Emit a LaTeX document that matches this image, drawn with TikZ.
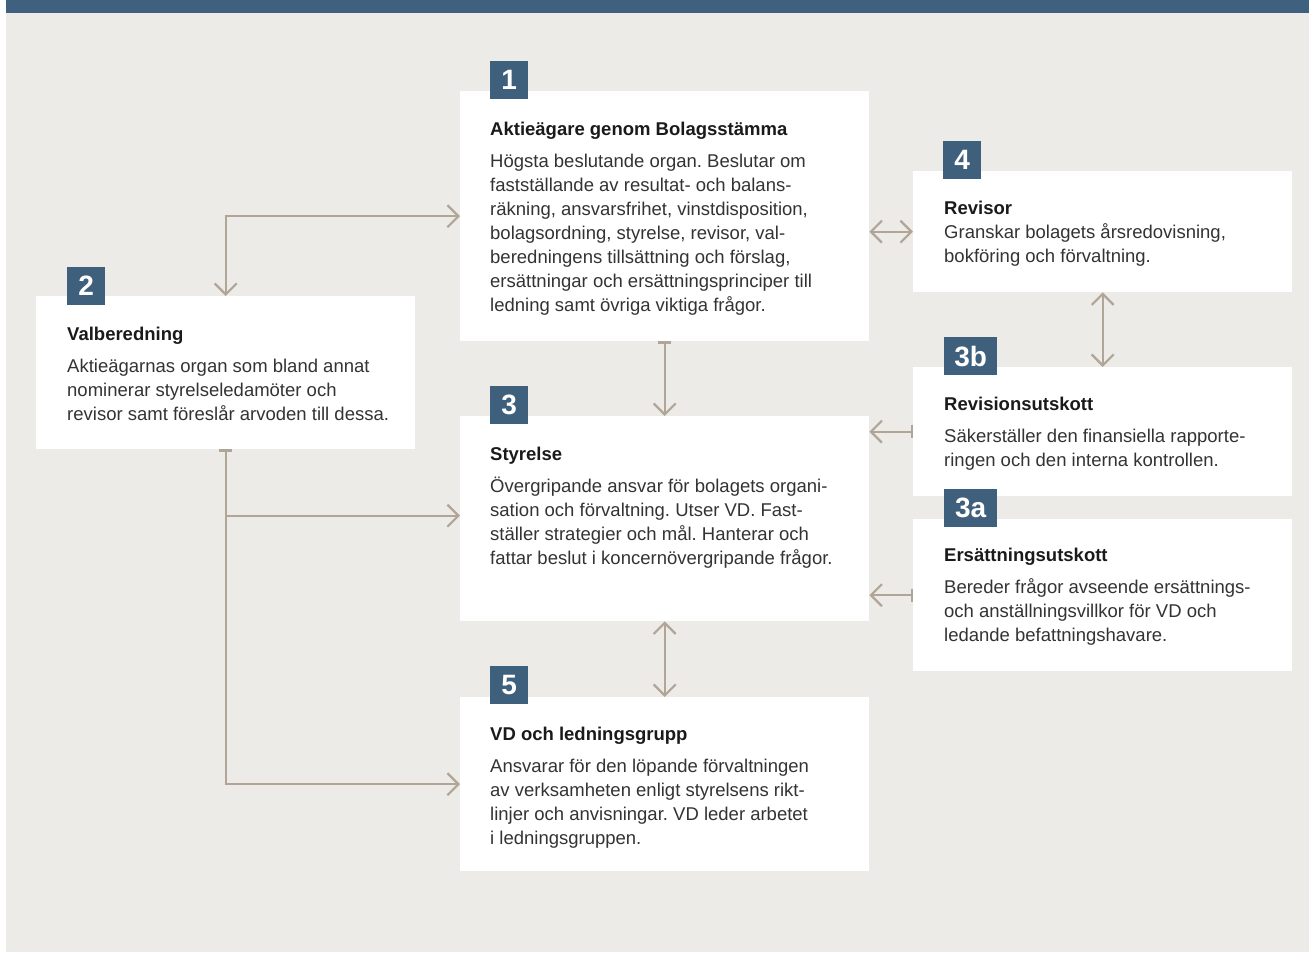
\documentclass[tikz,border=0pt]{standalone}
\usepackage{fontspec}
\setmainfont{Liberation Sans}
\usetikzlibrary{arrows.meta}
\frenchspacing
\definecolor{bggrey}{HTML}{EDEBE7}
\definecolor{bandblue}{HTML}{3F607E}
\definecolor{badgeblue}{HTML}{3F607D}
\definecolor{linetaupe}{HTML}{B0A597}
\definecolor{bodygrey}{HTML}{333333}
\definecolor{titleblack}{HTML}{1A1A1A}
\tikzset{
	whitebox/.style={fill=white, draw=none, inner sep=0, anchor=north west},
	badge/.style={fill=badgeblue, text=white, inner sep=0, anchor=north west, minimum height=38pt, minimum width=38pt, font=\fontsize{28}{28}\selectfont\bfseries},
	txt/.style={anchor=north west, align=left, inner sep=0, text=bodygrey, font=\fontsize{18.5}{24}\selectfont},
	conn/.style={draw=linetaupe, line width=2.2pt},
	barb/.tip={Straight Barb[length=11pt, width=22pt]},
	tee/.tip={Bar[width=13pt]}
}
\newcommand{\boxtitle}[1]{\rule{0pt}{15pt}\textcolor{titleblack}{\textbf{#1}}}
\begin{document}
\begin{tikzpicture}[x=1pt, y=-1pt, line join=miter]
		\def\W{1309}\def\H{953}
		\useasboundingbox (0,0) rectangle (\W,\H);
		\fill[bggrey] (6,13) rectangle (\W,952);
		\fill[bandblue] (6,0) rectangle (\W,13);
		% boxes
		\node[whitebox, minimum width=409pt, minimum height=250pt] (n1) at (460,91) {};
		\node[whitebox, minimum width=379pt, minimum height=153pt] (n2) at (36,296) {};
		\node[whitebox, minimum width=409pt, minimum height=205pt] (n3) at (460,416) {};
		\node[whitebox, minimum width=379pt, minimum height=121pt] (n4) at (913,171) {};
		\node[whitebox, minimum width=379pt, minimum height=129pt] (n3b) at (913,367) {};
		\node[whitebox, minimum width=379pt, minimum height=152pt] (n3a) at (913,519) {};
		\node[whitebox, minimum width=409pt, minimum height=174pt] (n5) at (460,697) {};
		\coordinate (c3) at ([yshift=3pt]n3.west);
		% badges
		\node[badge] (b1) at (490,61) {1};
		\node[badge] (b2) at (67,267) {2};
		\node[badge] (b3) at (490,386) {3};
		\node[badge] (b4) at (943,141) {4};
		\node[badge, minimum width=53pt] (b3b) at (944,337) {3b};
		\node[badge, minimum width=53pt] (b3a) at (944,489) {3a};
		\node[badge] (b5) at (490,666) {5};
		% texts
		\node[txt] (t1) at (490,120) {\boxtitle{Aktieägare genom Bolagsstämma}\\[8pt]
			Högsta beslutande organ. Beslutar om\\
			fastställande av resultat- och balans-\\
			räkning, ansvarsfrihet, vinstdisposition,\\
			bolagsordning, styrelse, revisor, val-\\
			beredningens tillsättning och förslag,\\
			ersättningar och ersättningsprinciper till\\
			ledning samt övriga viktiga frågor.};
		\node[txt] (t2) at (67,325) {\boxtitle{Valberedning}\\[8pt]
			Aktieägarnas organ som bland annat\\
			nominerar styrelseledamöter och\\
			revisor samt föreslår arvoden till dessa.};
		\node[txt] (t3) at (490,445) {\boxtitle{Styrelse}\\[8pt]
			Övergripande ansvar för bolagets organi-\\
			sation och förvaltning. Utser VD. Fast-\\
			ställer strategier och mål. Hanterar och\\
			fattar beslut i koncernövergripande frågor.};
		\node[txt] (t4) at (944,199) {\boxtitle{Revisor}\\
			Granskar bolagets årsredovisning,\\
			bokföring och förvaltning.};
		\node[txt] (t3b) at (944,395) {\boxtitle{Revisionsutskott}\\[8pt]
			Säkerställer den finansiella rapporte-\\
			ringen och den interna kontrollen.};
		\node[txt] (t3a) at (944,546) {\boxtitle{Ersättningsutskott}\\[8pt]
			Bereder frågor avseende ersättnings-\\
			och anställningsvillkor för VD och\\
			ledande befattningshavare.};
		\node[txt] (t5) at (490,725) {\boxtitle{VD och ledningsgrupp}\\[8pt]
			Ansvarar för den löpande förvaltningen\\
			av verksamheten enligt styrelsens rikt-\\
			linjer och anvisningar. VD leder arbetet\\
			i ledningsgruppen.};
		% connectors
		\draw[conn, barb-barb] (n2.north) |- (n1.west);
		\draw[conn, tee-barb] (n2.south) |- (n5.west);
		\draw[conn, -barb] (n2.south |- c3) -- (c3);
		\draw[conn, tee-barb] (n1.south) -- (n3.north);
		\draw[conn, barb-barb] (n4.west -| n1.east) -- (n4.west);
		\draw[conn, barb-barb] (n4.south) -- (n3b.north);
		\draw[conn, tee-barb] (n3b.west) -- (n3b.west -| n3.east);
		\draw[conn, tee-barb] (n3a.west) -- (n3a.west -| n3.east);
		\draw[conn, barb-barb] (n3.south) -- (n5.north);
\end{tikzpicture}
\end{document}
